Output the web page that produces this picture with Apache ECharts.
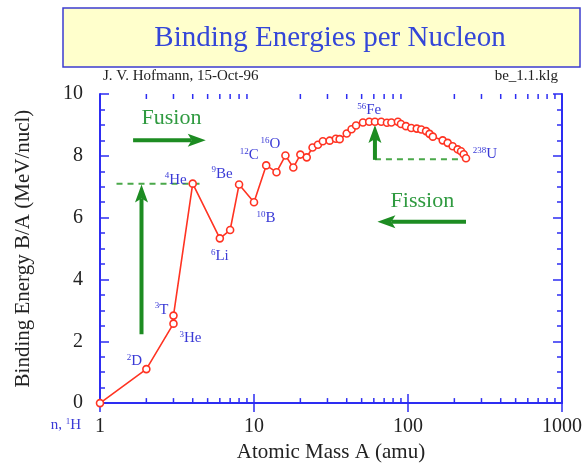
<!DOCTYPE html>
<html>
<head>
<meta charset="utf-8">
<script src="https://cdn.jsdelivr.net/npm/echarts@6/dist/echarts.min.js"></script>
<style>
  html, body { margin: 0; padding: 0; background: #ffffff; }
  #chart { width: 585px; height: 468px; }
</style>
</head>
<body>
<div id="chart"></div>
<script>
// Mass number A of each nuclide along the curve
const massNumber = [1, 2, 3, 3, 4, 6, 7, 8, 10, 12, 14, 16, 18, 20, 22, 24, 26, 28, 31, 34,
  36, 40, 43, 46, 51, 56, 61, 67, 73, 78, 86, 90, 97, 105, 114, 122, 131, 138, 145, 168,
  181, 195, 210, 221, 230, 238];
// Binding energy per nucleon B/A in MeV
const bindingEnergy = [0, 1.10, 2.57, 2.83, 7.10, 5.33, 5.60, 7.07, 6.50, 7.69, 7.47, 8.01,
  7.62, 8.04, 7.95, 8.27, 8.36, 8.47, 8.49, 8.55, 8.54, 8.72, 8.86, 8.98, 9.08, 9.10, 9.10,
  9.10, 9.07, 9.08, 9.10, 9.03, 8.96, 8.90, 8.88, 8.85, 8.80, 8.71, 8.62, 8.50, 8.42, 8.31,
  8.21, 8.15, 8.05, 7.92];

// Named nuclides: index into the curve and the rich-text name ({s|..} is the superscript)
const tagIndex = [0, 1, 3, 2, 4, 5, 7, 8, 9, 11, 25, 45];
const tagText = ['{n|n, }{s|1}{n|H}', '{s|2}{n|D}', '{s|3}{n|T}', '{s|3}{n|He}', '{s|4}{n|He}',
  '{s|6}{n|Li}', '{s|9}{n|Be}', '{s|10}{n|B}', '{s|12}{n|C}', '{s|16}{n|O}', '{s|56}{n|Fe}',
  '{s|238}{n|U}'];
// Where each name sits relative to its point (px)
const tagOffset = [[-34, 22], [-12, -8], [-12, -6], [17, 14], [-17, -4], [0, 18], [-17, -11],
  [12, 16], [-17, -10], [-15, -11], [0, -12], [19, -4]];

// Axis tick labels
const yTicks = [0, 2, 4, 6, 8, 10];
const xTicks = [1, 10, 100, 1000];
const xMinorTicks = [2, 3, 4, 5, 6, 7, 8, 9, 20, 30, 40, 50, 60, 70, 80, 90,
  200, 300, 400, 500, 600, 700, 800, 900];

// Fusion / fission arrows: [A start, B start, A end, B end]
const iHe4 = 4, iFe = 25, iU = 45;
const arrows = [
  [1.64, 8.5, 4.86, 8.5],                          // fusion, towards heavier
  [238, 5.87, 63.3, 5.87],                         // fission, towards lighter
  [1.86, 2.23, 1.86, bindingEnergy[iHe4] - 0.03],  // gain from fusing to 4He
  [61, bindingEnergy[iU] - 0.05, 61, 9.0]          // gain from splitting 238U
];
// Dashed reference levels: [A start, A end, B]
const levels = [
  [1.28, 4.6, bindingEnergy[iHe4]],
  [61, 240, bindingEnergy[iU] - 0.03]
];
// Process captions
const captions = [['Fusion', 2.91, 9.23], ['Fission', 124, 6.52]];

const blueAxis = '#2d2df2';
const red = '#ff3322';
const green = '#1d8c22';
const lightGreen = '#4aa84a';
const tagBlue = '#3a3ad6';
const serif = '"Liberation Serif", "DejaVu Serif", serif';

const chart = echarts.init(document.getElementById('chart'), null, { renderer: 'canvas' });

function arrowItem(params, api) {
  const p0 = api.coord([api.value(0), api.value(1)]);
  const p1 = api.coord([api.value(2), api.value(3)]);
  const dx = p1[0] - p0[0], dy = p1[1] - p0[1];
  const len = Math.hypot(dx, dy);
  const ux = dx / len, uy = dy / len, nx = -uy, ny = ux;
  const headLen = 18, headHalf = 6.5, notch = 4;
  const base = [p1[0] - ux * headLen, p1[1] - uy * headLen];
  const inner = [p1[0] - ux * (headLen - notch), p1[1] - uy * (headLen - notch)];
  return {
    type: 'group',
    children: [
      { type: 'line', shape: { x1: p0[0], y1: p0[1], x2: inner[0], y2: inner[1] },
        style: { stroke: green, lineWidth: 4 } },
      { type: 'polygon',
        shape: { points: [p1, [base[0] + nx * headHalf, base[1] + ny * headHalf], inner,
          [base[0] - nx * headHalf, base[1] - ny * headHalf]] },
        style: { fill: green } }
    ]
  };
}

function minorTickItem(params, api) {
  const v = api.value(0);
  const b = api.coord([v, 0]);
  const t = api.coord([v, 10]);
  const st = { stroke: blueAxis, lineWidth: 1.5 };
  return {
    type: 'group',
    children: [
      { type: 'line', shape: { x1: b[0], y1: b[1], x2: b[0], y2: b[1] - 5 }, style: st },
      { type: 'line', shape: { x1: t[0], y1: t[1], x2: t[0], y2: t[1] + 5 }, style: st }
    ]
  };
}

// Text anchored at a data point, drawn through the axes
function textItem(params, api) {
  const p = api.coord([api.value(0), api.value(1)]);
  const d = params.context.items[params.dataIndex];
  return {
    type: 'text',
    x: p[0] + d.offset[0],
    y: p[1] + d.offset[1],
    style: Object.assign({ align: 'center', verticalAlign: 'middle' }, d.style)
  };
}

const curve = massNumber.map((a, i) => [a, bindingEnergy[i]]);

const richTag = {
  n: { fontFamily: serif, fontSize: 15, lineHeight: 16, fill: tagBlue },
  s: { fontFamily: serif, fontSize: 9, lineHeight: 9, fill: tagBlue, verticalAlign: 'top' }
};
const tagItems = tagIndex.map((idx, k) => ({
  offset: tagOffset[k],
  style: { text: tagText[k], rich: richTag }
}));
const captionItems = captions.map(c => ({
  offset: [0, 0],
  style: { text: c[0], fontFamily: serif, fontSize: 22, fill: '#2f9a40' }
}));

const levelSeries = levels.map(l => ({
  type: 'line',
  data: [[l[0], l[2]], [l[1], l[2]]],
  symbol: 'none',
  silent: true,
  lineStyle: { color: lightGreen, width: 2, type: [6, 5] },
  z: 3
}));

const option = {
  animation: false,
  backgroundColor: '#ffffff',
  grid: { left: 100, right: 22, top: 94, bottom: 61 },
  xAxis: [
    {
      type: 'log', logBase: 10, min: 1, max: 1000, position: 'bottom',
      name: 'Atomic Mass A (amu)', nameLocation: 'middle', nameGap: 37,
      nameTextStyle: { fontFamily: serif, fontSize: 21, color: '#222' },
      axisLine: { lineStyle: { color: blueAxis, width: 2 } },
      axisTick: { inside: true, length: 9, lineStyle: { color: blueAxis, width: 1.5 } },
      axisLabel: {
        margin: 14, fontFamily: serif, fontSize: 20, color: '#222',
        formatter: v => (xTicks.indexOf(Math.round(v)) >= 0 ? String(Math.round(v)) : '')
      },
      splitLine: { show: false }
    },
    {
      type: 'log', logBase: 10, min: 1, max: 1000, position: 'top',
      axisLine: { lineStyle: { color: blueAxis, width: 2 } },
      axisTick: { inside: true, length: 9, lineStyle: { color: blueAxis, width: 1.5 } },
      axisLabel: { show: false },
      splitLine: { show: false }
    }
  ],
  yAxis: [
    {
      type: 'value', min: 0, max: 10, interval: 2, position: 'left',
      name: 'Binding Energy B/A (MeV/nucl)', nameLocation: 'middle', nameGap: 66,
      nameTextStyle: { fontFamily: serif, fontSize: 21, color: '#222' },
      axisLine: { show: true, lineStyle: { color: blueAxis, width: 2 } },
      axisTick: { show: true, inside: true, length: 9, lineStyle: { color: blueAxis, width: 1.5 } },
      minorTick: { show: true, splitNumber: 4, length: 5, lineStyle: { color: blueAxis, width: 1.5 } },
      axisLabel: {
        margin: 17, fontFamily: serif, fontSize: 20, color: '#222',
        formatter: v => (yTicks.indexOf(v) >= 0 ? String(v) : '')
      },
      splitLine: { show: false }
    },
    {
      type: 'value', min: 0, max: 10, interval: 2, position: 'right',
      axisLine: { show: true, lineStyle: { color: blueAxis, width: 2 } },
      axisTick: { show: true, inside: true, length: 9, lineStyle: { color: blueAxis, width: 1.5 } },
      minorTick: { show: true, splitNumber: 4, length: 5, lineStyle: { color: blueAxis, width: 1.5 } },
      axisLabel: { show: false },
      splitLine: { show: false }
    }
  ],
  graphic: [
    { type: 'rect', shape: { x: 63, y: 8, width: 517, height: 59 },
      style: { fill: '#ffffcc', stroke: '#3c3cd0', lineWidth: 1.5 } },
    { type: 'text', x: 330, y: 38,
      style: { text: 'Binding Energies per Nucleon', fontFamily: serif, fontSize: 29,
        fill: '#3446d8', align: 'center', verticalAlign: 'middle' } },
    { type: 'text', x: 103, y: 76,
      style: { text: 'J. V. Hofmann, 15-Oct-96', fontFamily: serif, fontSize: 15,
        fill: '#222', align: 'left', verticalAlign: 'middle' } },
    { type: 'text', x: 558, y: 76,
      style: { text: 'be_1.1.klg', fontFamily: serif, fontSize: 15,
        fill: '#222', align: 'right', verticalAlign: 'middle' } }
  ],
  series: [
    {
      type: 'custom', name: 'minor ticks', silent: true,
      data: xMinorTicks.map(v => [v, 0]),
      renderItem: minorTickItem, z: 1
    },
    ...levelSeries,
    {
      type: 'custom', name: 'arrows', silent: true,
      encode: { x: [0, 2], y: [1, 3] },
      data: arrows,
      renderItem: arrowItem, z: 4
    },
    {
      type: 'line', name: 'B/A',
      data: curve,
      symbol: 'circle', symbolSize: 7,
      itemStyle: { color: '#ffffff', borderColor: red, borderWidth: 1.6 },
      lineStyle: { color: red, width: 1.6 },
      z: 5
    },
    {
      type: 'custom', name: 'tags', silent: true, clip: false,
      data: tagIndex.map(idx => [massNumber[idx], bindingEnergy[idx]]),
      renderItem: (params, api) => {
        params.context.items = tagItems;
        return textItem(params, api);
      },
      z: 6
    },
    {
      type: 'custom', name: 'captions', silent: true,
      data: captions.map(c => [c[1], c[2]]),
      renderItem: (params, api) => {
        params.context.items = captionItems;
        return textItem(params, api);
      },
      z: 6
    }
  ]
};

chart.setOption(option);
</script>
</body>
</html>
